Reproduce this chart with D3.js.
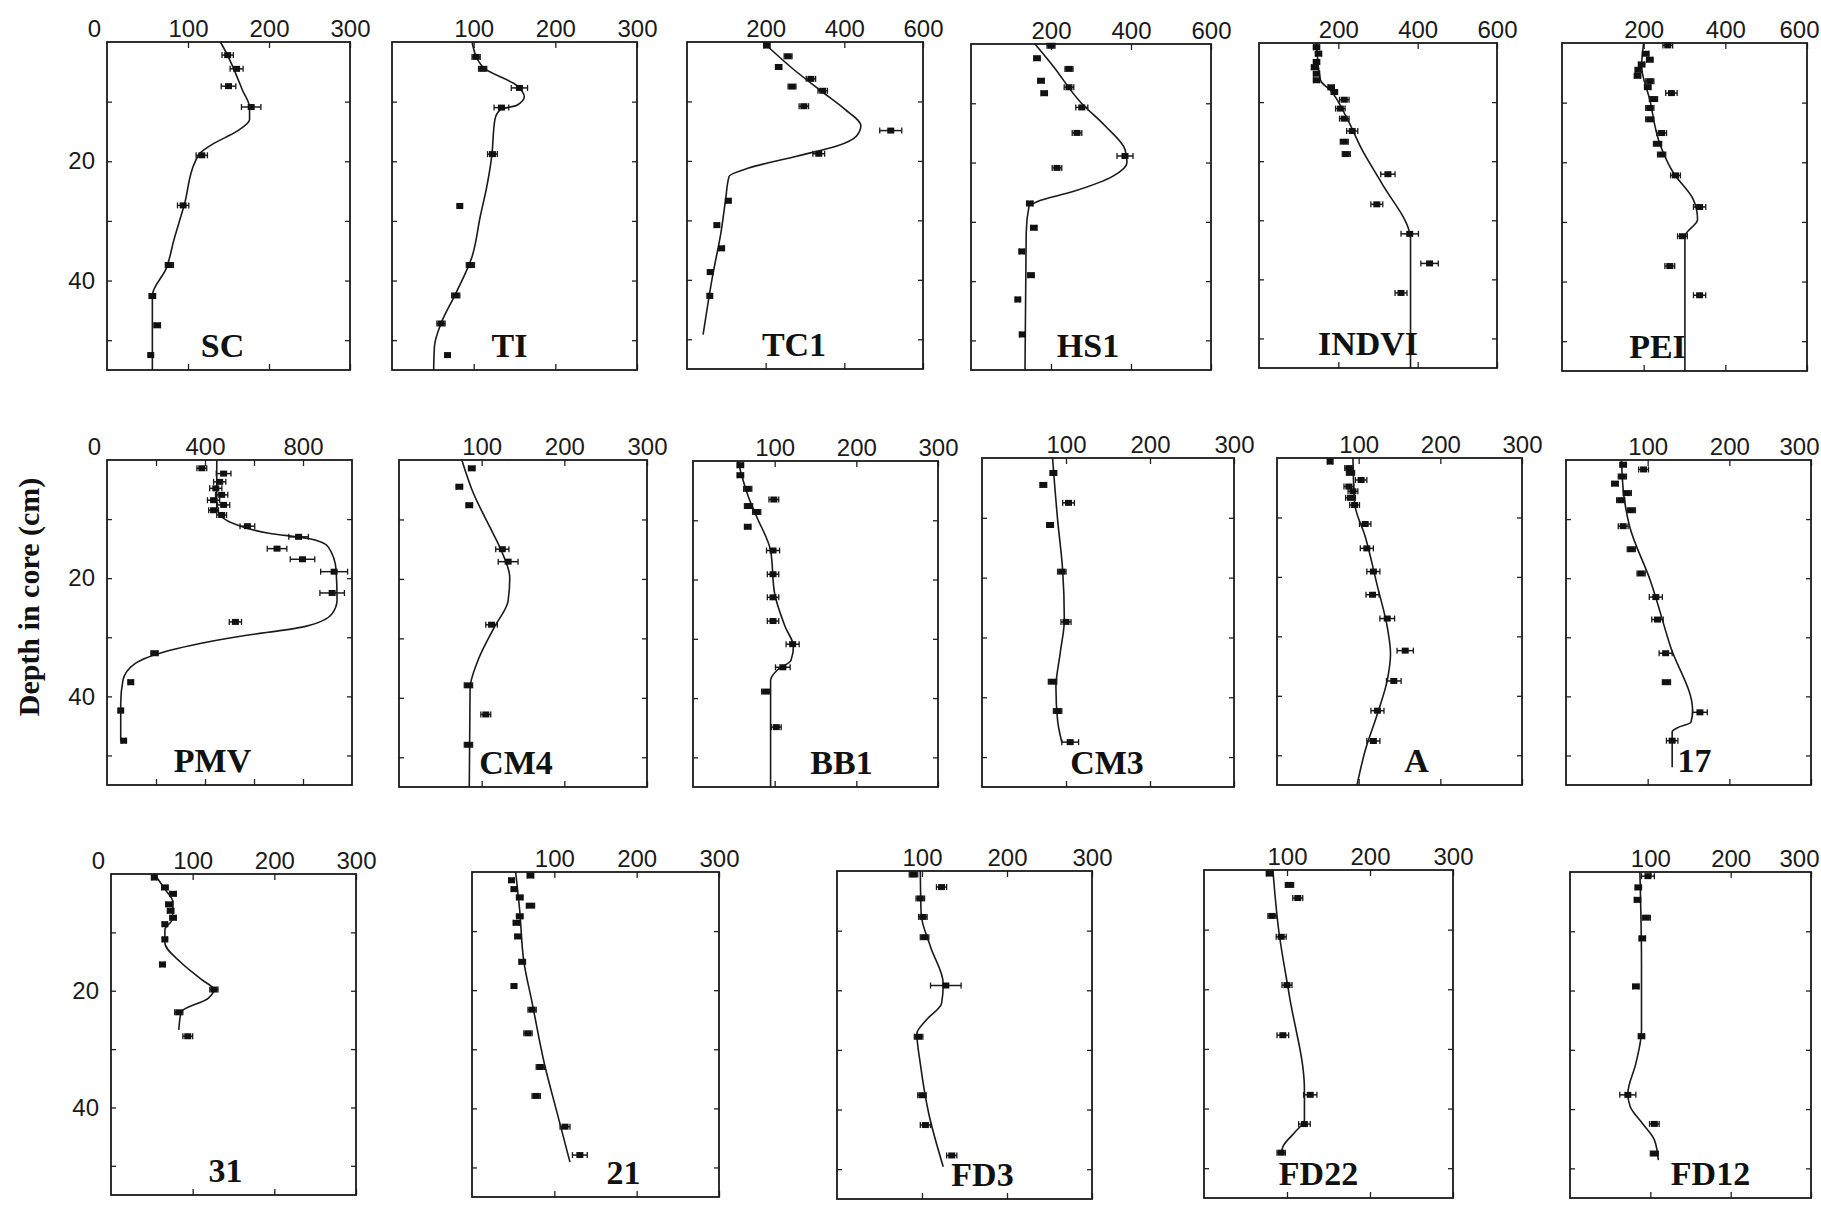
<!DOCTYPE html>
<html>
<head>
<meta charset="utf-8">
<script src="https://cdn.jsdelivr.net/npm/d3@7"></script>
<style>
  body { margin: 0; background: #fff; }
  .tick text { font-family: "Liberation Sans", Arial, sans-serif; font-size: 24px; fill: #1a1a1a; }
  .tick line { stroke: #222; stroke-width: 1.3; }
  .name { font-family: "Liberation Serif", "Times New Roman", serif; font-weight: bold; font-size: 34px; fill: #111; }
  .ytitle { font-family: "Liberation Serif", "Times New Roman", serif; font-weight: bold; font-size: 30px; fill: #111; }
</style>
</head>
<body>
<div id="chart"></div>
<script>
// panel names, in reading order
var names = ["SC", "TI", "TC1", "HS1", "INDVI", "PEI",
             "PMV", "CM4", "BB1", "CM3", "A", "17",
             "31", "21", "FD3", "FD22", "FD12"];

// x-axis maximum for each panel
var xMax = [300, 300, 600, 600, 600, 600,
            1000, 300, 300, 300, 300, 300,
            300, 300, 300, 300, 300];

// y (depth, cm) axis
var depthMax = 55;
var depthTicks = [10, 20, 30, 40, 50];
var depthLabels = [20, 40];

// measured points: [depth, value, half error bar]
var scPts = [[2.2,149,7],[4.5,160,8],[7.4,150,9],[10.9,178,12],[19,117,7],[27.4,94,7],[37.4,77,5],[42.6,56,4],[47.5,62,4],[52.5,54,2]];
var tiPts = [[2.5,103,5],[4.5,111,5],[7.7,156,10],[11,134,9],[18.8,123,6],[27.5,83,0],[37.4,96,5],[42.5,78,5],[47.2,60,5],[52.5,68,0]];
var tc1Pts = [[0.6,203,8],[2.4,257,10],[4.2,233,8],[6.2,315,12],[7.5,267,10],[8.2,345,12],[10.8,297,12],[14.9,518,28],[18.8,335,15],[26.7,105,6],[30.8,76,6],[34.7,88,6],[38.7,59,5],[42.7,58,4]];
var hs1Pts = [[0.3,200,10],[2.4,165,8],[4.2,245,10],[6.2,175,8],[7.3,245,12],[8.3,183,8],[10.7,277,15],[15,265,12],[18.9,385,20],[20.9,215,12],[26.9,147,8],[31,157,8],[35,127,6],[39,150,8],[43.1,117,5],[49,128,6]];
var indviPts = [[0.7,145,8],[1.8,150,8],[3.2,145,8],[4.1,140,8],[5.2,145,8],[6.3,145,8],[7.5,182,8],[8.3,190,8],[9.6,215,12],[11.1,205,12],[12.8,215,12],[14.9,235,14],[16.7,215,10],[18.8,220,10],[22.2,325,18],[27.3,297,15],[32.3,380,22],[37.3,430,22],[42.3,358,15]];
var peiPts = [[0.4,259,12],[1.8,205,8],[2.8,215,8],[3.6,195,8],[4.5,187,8],[5.5,185,8],[6.4,215,10],[7.4,210,8],[8.4,268,14],[9.4,224,10],[10.9,215,10],[12.8,215,10],[15.1,244,12],[16.9,234,10],[18.7,244,10],[22.2,278,12],[27.5,337,15],[32.4,295,12],[37.4,264,12],[42.3,337,15]];
var pmvPts = [[1.4,387,20],[2.3,476,30],[3.7,460,25],[4.8,444,25],[5.9,468,25],[6.8,435,25],[7.6,476,25],[8.5,435,20],[9.3,468,20],[11.2,573,30],[13,782,40],[15,694,40],[16.8,798,50],[18.9,927,55],[22.5,919,50],[27.4,524,25],[32.7,194,15],[37.6,97,10],[42.4,56,8],[47.5,68,8]];
var cm4Pts = [[1.4,88,4],[4.5,73,4],[7.6,85,4],[15,125,8],[17.1,132,12],[27.7,112,7],[37.9,84,5],[42.8,105,6],[47.9,84,5]];
var bb1Pts = [[0.7,58,4],[2.4,58,4],[4.7,67,5],[6.5,99,6],[7.6,68,5],[8.6,78,5],[11.1,67,4],[15.1,98,8],[19.1,98,7],[23,98,7],[27,98,7],[30.9,122,8],[34.8,110,9],[38.9,89,5],[44.9,102,6]];
var cm3Pts = [[2.5,85,4],[4.5,73,4],[7.5,103,7],[11.2,81,4],[19,95,5],[27.4,100,6],[37.4,84,5],[42.3,90,5],[47.5,105,10]];
var aPts = [[0.6,65,3],[1.7,88,5],[2.5,90,5],[3.7,103,7],[4.8,88,6],[5.6,93,6],[6.7,90,6],[7.9,95,6],[11.1,108,7],[15.2,110,8],[19.1,118,8],[23,117,8],[27,135,9],[32.4,157,10],[37.5,143,9],[42.5,123,8],[47.6,118,8]];
var c17Pts = [[0.8,70,4],[1.6,95,6],[2.8,69,5],[4,60,4],[5.6,75,5],[6.8,67,5],[8.5,80,5],[11.2,70,6],[15.1,80,5],[19.2,92,5],[23.2,110,8],[27,112,7],[32.7,122,8],[37.6,123,5],[42.7,164,9],[47.5,130,7]];
var c31Pts = [[0.6,53,3],[2.3,66,4],[3.4,76,4],[5.2,71,4],[6.3,73,4],[7.5,76,4],[8.6,66,3],[11.2,66,3],[15.5,63,3],[19.8,126,5],[23.7,83,5],[27.8,94,6]];
var c21Pts = [[0.6,71,4],[1.4,48,3],[2.9,51,3],[4.3,58,4],[5.7,71,5],[7.5,58,4],[8.6,54,4],[10.9,56,4],[15.2,61,4],[19.3,51,3],[23.3,73,5],[27.3,68,5],[33,83,5],[37.9,78,5],[43.1,113,6],[47.9,131,9]];
var fd3Pts = [[0.6,90,5],[2.7,123,6],[4.6,98,5],[7.7,101,5],[11.1,103,5],[19.2,128,18],[27.8,96,5],[37.6,100,5],[42.6,104,6],[47.7,135,6]];
var fd22Pts = [[0.6,79,4],[2.5,103,5],[4.7,113,6],[7.7,82,5],[11.2,93,6],[19.3,100,6],[27.7,95,7],[37.7,128,8],[42.6,121,7],[47.4,93,5]];
var fd12Pts = [[0.7,97,8],[2.6,85,4],[4.7,84,4],[7.7,95,5],[11.2,90,4],[19.3,82,4],[27.7,89,4],[37.6,72,10],[42.5,105,6],[47.5,105,5]];

// fitted model curves: [depth, value]
var scFit = [[0,140],[2,148],[5,158],[8,167],[11,176],[13,176],[15,160],[17,132],[18.5,116],[20,109],[27,96],[33,83],[38,73],[42.5,56],[55,56]];
var tiFit = [[0,98],[4.2,111],[7.3,153],[9.2,162],[10.6,153],[11.3,133],[13,126],[19.3,122],[24.3,116],[29.3,108],[36,98],[42.2,78],[47.2,60],[51,52],[55,51]];
var tc1Fit = [[0,193],[4.5,269],[8.2,340],[11.3,401],[14.1,442],[15.8,431],[17.5,381],[19.2,279],[21.2,157],[22.6,107],[26.6,98],[32.2,86],[39,66],[49.2,41]];
var hs1Fit = [[0,160],[3.7,205],[9.9,275],[13.8,335],[17.8,385],[20,390],[22.3,355],[24.9,255],[26.6,165],[27.4,145],[31.9,138],[55,135]];
var indviFit = [[0,145],[6.3,155],[8,180],[12.5,220],[18.1,260],[23.8,310],[32.2,380],[33,382],[55,382]];
var peiFit = [[0,200],[3.9,195],[9.5,215],[16.8,239],[21.8,273],[26.3,322],[29.6,332],[32.1,303],[33,301],[55,301]];
var pmvFit = [[0,448],[7.9,448],[9.6,468],[11,532],[12.4,661],[13.3,823],[14.7,903],[18.6,935],[23.7,939],[26,919],[28.2,806],[29.9,532],[32.2,258],[34.5,113],[37.3,65],[41.2,56],[47.5,56]];
var cm4Fit = [[0,76],[5.6,90],[11.3,110],[15.3,124],[19.8,134],[23.7,132],[28.2,115],[33.9,95],[38.4,86],[55,85]];
var bb1Fit = [[0,55],[6.1,68],[9.4,78],[15.1,95],[22.4,100],[28,113],[31.3,123],[33.6,120],[35.3,103],[37,95],[55,95]];
var cm3Fit = [[0,84],[10.3,90],[18.7,96],[27.1,98],[32.7,93],[38.3,88],[43.9,90],[47.5,95]];
var aFit = [[0,93],[7.6,95],[13.2,108],[21.6,123],[28.4,135],[32.9,139],[37.4,135],[43,123],[49.2,108],[55,98]];
var c17Fit = [[0,68],[6.2,71],[11.3,78],[20.3,103],[31.6,128],[42.4,155],[44.4,153],[45.2,138],[46,130],[52,130]];
var c31Fit = [[0,53],[2.6,66],[4.9,76],[7.8,75],[9.5,66],[11.8,66],[15.2,86],[18.1,111],[19.8,126],[21.3,119],[23.6,86],[26.7,83]];
var c21Fit = [[0,53],[6.6,58],[15.2,63],[22.1,73],[32.5,88],[41.1,104],[49.1,119]];
var fd3Fit = [[0,98],[7.2,99],[12.7,110],[18.9,125],[22.2,123],[25,105],[27.3,94],[32.3,98],[40.7,108],[49.6,125]];
var fd22Fit = [[0,83],[10.1,90],[21.2,103],[36.9,121],[41.9,121],[43.9,110],[46.4,95],[47.8,93]];
var fd12Fit = [[0,87],[15.4,89],[26.7,89],[32.3,82],[37.4,72],[39.6,75],[42.4,90],[45.2,105],[48.6,110]];

var allPts = [scPts, tiPts, tc1Pts, hs1Pts, indviPts, peiPts, pmvPts, cm4Pts, bb1Pts, cm3Pts, aPts, c17Pts, c31Pts, c21Pts, fd3Pts, fd22Pts, fd12Pts];
var allFits = [scFit, tiFit, tc1Fit, hs1Fit, indviFit, peiFit, pmvFit, cm4Fit, bb1Fit, cm3Fit, aFit, c17Fit, c31Fit, c21Fit, fd3Fit, fd22Fit, fd12Fit];

// panel boxes on the page: [left, right, top, bottom, name offset]
var boxes = [
  [107, 350, 42, 370, -6], [392, 637, 42, 370, -5], [687, 923, 42, 369, -11],
  [971, 1211, 44, 370, -3], [1259, 1497, 43, 368, -10], [1562, 1807, 43, 371, -27],
  [107, 352, 460, 785, -17], [399, 647, 460, 787, -7], [693, 938, 461, 787, 26],
  [982, 1234, 458, 787, -1], [1277, 1522, 458, 785, 17], [1566, 1811, 460, 785, 6],
  [111, 356, 874, 1195, -8], [472, 719, 872, 1197, 28], [837, 1092, 871, 1199, 18],
  [1204, 1453, 870, 1198, -10], [1570, 1811, 872, 1198, 20]
];
var firstColumn = [0, 6, 12];

var width = 1821, height = 1208;
var svg = d3.select("#chart").append("svg")
  .attr("width", width)
  .attr("height", height);

function tickSpec(max) {
  if (max === 1000) return { ticks: [200, 400, 600, 800], labels: [400, 800] };
  if (max === 600) return { ticks: [200, 400, 600], labels: [200, 400, 600] };
  return { ticks: [100, 200, 300], labels: [100, 200, 300] };
}

names.forEach(function (name, i) {
  var b = boxes[i];
  var w = b[1] - b[0], h = b[3] - b[2];
  var x = d3.scaleLinear().domain([0, xMax[i]]).range([0, w]);
  var y = d3.scaleLinear().domain([0, depthMax]).range([0, h]);
  var spec = tickSpec(xMax[i]);
  var g = svg.append("g").attr("transform", "translate(" + b[0] + "," + b[2] + ")");

  //top axis carries the value labels, ticks point inward
  var top = g.append("g")
    .call(d3.axisTop(x).tickValues(spec.ticks).tickSize(-6).tickPadding(5)
      .tickFormat(function (d) { return spec.labels.indexOf(d) >= 0 ? d : ""; }));
  //keep labels at the page edge whole
  top.selectAll(".tick text").each(function (d) {
    var half = this.getComputedTextLength() / 2;
    var over = b[0] + x(d) + half - (width - 2);
    if (over > 0) d3.select(this).attr("dx", -over);
  });
  g.append("g")
    .attr("transform", "translate(0," + h + ")")
    .call(d3.axisBottom(x).tickValues(spec.ticks).tickSize(-6).tickFormat(""));

  var isFirst = firstColumn.indexOf(i) >= 0;
  g.append("g")
    .call(d3.axisLeft(y).tickValues(depthTicks).tickSize(-5).tickPadding(12)
      .tickFormat(function (d) { return isFirst && depthLabels.indexOf(d) >= 0 ? d : ""; }));
  g.append("g")
    .attr("transform", "translate(" + w + ",0)")
    .call(d3.axisRight(y).tickValues(depthTicks).tickSize(-5).tickFormat(""));
  g.selectAll(".domain").remove();

  if (isFirst) {
    g.append("text")
      .attr("x", -6).attr("y", -5)
      .attr("text-anchor", "end")
      .style("font-family", "'Liberation Sans', Arial, sans-serif")
      .style("font-size", "24px")
      .style("fill", "#1a1a1a")
      .text("0");
  }

  g.append("rect")
    .attr("width", w).attr("height", h)
    .attr("fill", "none").attr("stroke", "#1a1a1a").attr("stroke-width", 1.8);

  //model curve
  var line = d3.line()
    .x(function (d) { return x(d[1]); })
    .y(function (d) { return y(d[0]); })
    .curve(d3.curveMonotoneY);
  g.append("path")
    .datum(allFits[i])
    .attr("d", line)
    .attr("fill", "none")
    .attr("stroke", "#1a1a1a")
    .attr("stroke-width", 1.6);

  //error bars and markers
  var pts = g.selectAll(".pt").data(allPts[i]).enter().append("g").attr("class", "pt");
  pts.append("line")
    .attr("x1", function (d) { return x(d[1] - d[2]); })
    .attr("x2", function (d) { return x(d[1] + d[2]); })
    .attr("y1", function (d) { return y(d[0]); })
    .attr("y2", function (d) { return y(d[0]); })
    .attr("stroke", "#1a1a1a").attr("stroke-width", 1.5);
  pts.filter(function (d) { return d[2] > 0; })
    .selectAll(".cap")
    .data(function (d) { return [[d[0], d[1] - d[2]], [d[0], d[1] + d[2]]]; })
    .enter().append("line")
    .attr("x1", function (d) { return x(d[1]); })
    .attr("x2", function (d) { return x(d[1]); })
    .attr("y1", function (d) { return y(d[0]) - 3; })
    .attr("y2", function (d) { return y(d[0]) + 3; })
    .attr("stroke", "#1a1a1a").attr("stroke-width", 1.3);
  pts.append("rect")
    .attr("x", function (d) { return x(d[1]) - 3.5; })
    .attr("y", function (d) { return y(d[0]) - 3; })
    .attr("width", 7).attr("height", 6)
    .attr("fill", "#111");

  g.append("text")
    .attr("class", "name")
    .attr("x", w / 2 + b[4])
    .attr("y", h - 13)
    .attr("text-anchor", "middle")
    .text(name);
});

svg.append("text")
  .attr("class", "ytitle")
  .attr("text-anchor", "middle")
  .attr("transform", "translate(39,597) rotate(-90)")
  .text("Depth in core (cm)");
</script>
</body>
</html>
